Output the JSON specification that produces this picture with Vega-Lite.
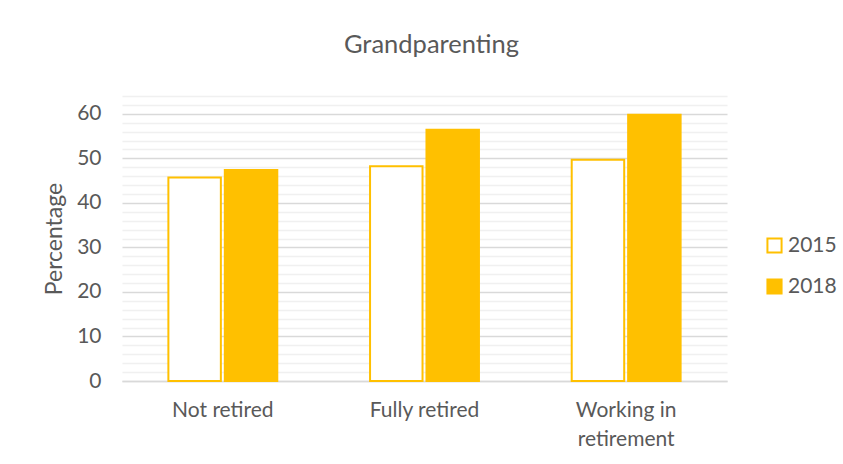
{
  "$schema": "https://vega.github.io/schema/vega-lite/v6.json",
  "autosize": "none",
  "width": 605,
  "height": 285,
  "padding": {"left": 122, "top": 96, "right": 116, "bottom": 83},
  "background": "white",
  "title": {
    "text": "Grandparenting",
    "anchor": "middle",
    "frame": "group",
    "font": "Lato",
    "fontSize": 25.5,
    "fontWeight": "normal",
    "color": "#595959",
    "baseline": "alphabetic",
    "offset": 43,
    "dx": 7,
    "dy": 25
  },
  "config": {
    "view": {"stroke": null},
    "font": "Lato"
  },
  "data": {
    "values": [
      {"group": "Not retired", "year": "2015", "value": 45.7},
      {"group": "Not retired", "year": "2018", "value": 47.4},
      {"group": "Fully retired", "year": "2015", "value": 48.2},
      {"group": "Fully retired", "year": "2018", "value": 56.4},
      {"group": "Working in retirement", "year": "2015", "value": 49.7},
      {"group": "Working in retirement", "year": "2018", "value": 59.8}
    ]
  },
  "mark": {"type": "bar", "stroke": "#FFC000", "strokeWidth": 2},
  "encoding": {
    "x": {
      "field": "group",
      "type": "nominal",
      "sort": ["Not retired", "Fully retired", "Working in retirement"],
      "scale": {"paddingInner": 0.46, "paddingOuter": 0.23},
      "axis": {
        "title": null,
        "labelAngle": 0,
        "labelFont": "Lato",
        "labelFontSize": 21,
        "labelColor": "#595959",
        "labelPadding": 18,
        "labelLineHeight": 29,
        "labelExpr": "datum.value == 'Working in retirement' ? ['Working in', 'retirement'] : datum.label",
        "ticks": false,
        "domainColor": "#d9d9d9",
        "domainWidth": 1.5,
        "grid": false
      }
    },
    "xOffset": {
      "field": "year",
      "type": "nominal",
      "scale": {"paddingInner": 0.07}
    },
    "y": {
      "field": "value",
      "type": "quantitative",
      "scale": {"domain": [0, 64], "nice": false},
      "axis": {
        "title": "Percentage",
        "titleFont": "Lato",
        "titleFontSize": 23,
        "titleFontWeight": "normal",
        "titleColor": "#595959",
        "titlePadding": 10,
        "values": [0, 2, 4, 6, 8, 10, 12, 14, 16, 18, 20, 22, 24, 26, 28, 30, 32, 34, 36, 38, 40, 42, 44, 46, 48, 50, 52, 54, 56, 58, 60, 62, 64],
        "labelExpr": "datum.value % 10 === 0 ? datum.label : ''",
        "labelFont": "Lato",
        "labelFontSize": 21,
        "labelColor": "#595959",
        "labelPadding": 21,
        "ticks": false,
        "tickSize": 0,
        "domain": false,
        "grid": true,
        "gridColor": {"condition": {"test": "datum.value % 10 === 0", "value": "#d9d9d9"}, "value": "#f0f0f0"},
        "gridWidth": 1.5
      }
    },
    "fill": {
      "field": "year",
      "type": "nominal",
      "scale": {"domain": ["2015", "2018"], "range": ["#ffffff", "#FFC000"]},
      "legend": {
        "title": null,
        "orient": "none",
        "legendX": 642,
        "legendY": 139,
        "symbolType": "square",
        "symbolSize": 200,
        "symbolStrokeColor": "#FFC000",
        "symbolStrokeWidth": 2,
        "labelFont": "Lato",
        "labelFontSize": 21,
        "labelColor": "#595959",
        "labelOffset": 3,
        "rowPadding": 18
      }
    }
  }
}
